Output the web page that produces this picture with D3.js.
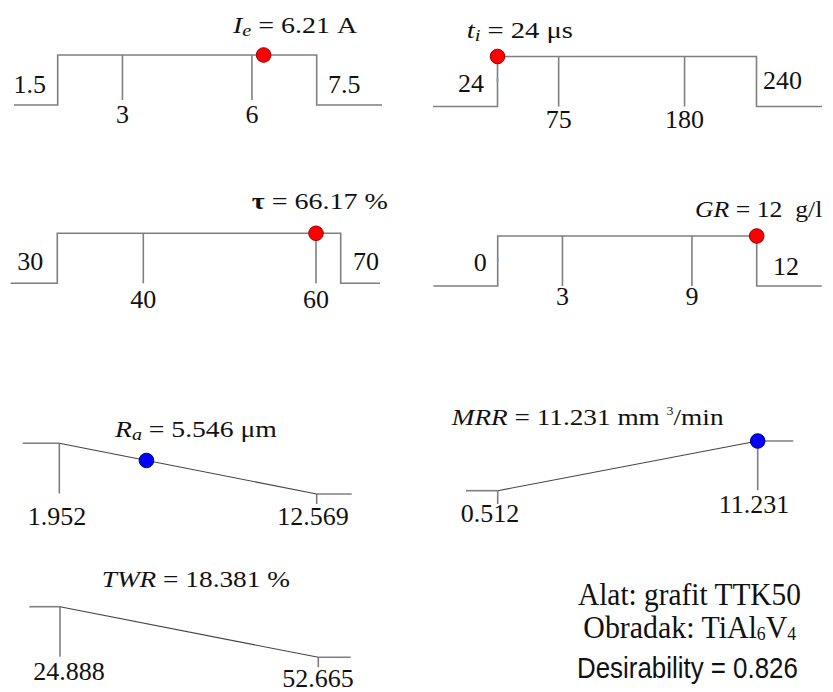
<!DOCTYPE html>
<html><head><meta charset="utf-8">
<script src="https://cdn.jsdelivr.net/npm/d3@7"></script>
<style>html,body{margin:0;padding:0;background:#fff;} svg{display:block}</style>
</head><body><svg id="c" width="833" height="692"></svg>
<script>
// ---------------- data ----------------
const factorSymbols = ["I", "t", "τ", "GR"];
const factorSubscripts = ["e", "i", "", ""];
const factorUnits = ["A", "μs", "%", " g/l"];
const factorLow = [1.5, 24, 30, 0];
const factorHigh = [7.5, 240, 70, 12];
const factorTicks = [[3, 6], [75, 180], [40, 60], [3, 9]];
const factorValues = [6.21, 24, 66.17, 12];
// where the dot sits on each drawn axis
const factorMarkerAt = [6.27, 24, 60, 12];

const responseSymbols = ["R", "MRR", "TWR"];
const responseSubscripts = ["a", "", ""];
const responseUnits = ["μm", "mm³/min", "%"];
const responseLow = [1.952, 0.512, 24.888];
const responseHigh = [12.569, 11.231, 52.665];
const responseGoals = ["minimize", "maximize", "minimize"];
const responseValues = [5.546, 11.231, 18.381];

const toolLine = "Alat: grafit TTK50";
const workpiece = ["Obradak: TiAl", "6", "V", "4"];
const desirability = 0.826;

// ---------------- layout ----------------
const factorLayout = [
  {yTop:55, yBot:105, stubL:14, stops:[57.7,316.7], stubR:382, tickBot:100, lowLab:[46,93], highLab:[328,93], tickLabY:123, title:[233,357,33]},
  {yTop:56.5, yBot:106.5, stubL:433, stops:[497.5,756.5], stubR:822, tickBot:106.5, lowLab:[484,91.7], highLab:[763,89], tickLabY:128, title:[466.7,573,38], blip:[78,82]},
  {yTop:233.3, yBot:283.3, stubL:10.7, stops:[57.3,143.3,316,340.7], stubR:380, tickBot:283.3, lowLab:[43.3,270], highLab:[353,270], tickLabY:308, title:[251.7,388,209.3]},
  {yTop:236, yBot:286, stubL:433.3, stops:[497.7,756.7], stubR:821.7, tickBot:286, lowLab:[486.7,270.7], highLab:[773,275], tickLabY:305, title:[695,823,216.7], blip:[257,262]}
];
const responseLayout = [
  {x0:59.3, x1:316.7, yHi:443.3, yLo:494, stubL:22.7, stubR:351.7, shortTick:10, lowLab:[57,525], highLab:[313,525], title:[115,278,437.3]},
  {x0:497.7, x1:757.7, yHi:441, yLo:490.7, stubL:466, stubR:793.3, shortTick:13.3, lowLab:[490,521.7], highLab:[754,513.3], title:[451.7,725,425]},
  {x0:60, x1:318.3, yHi:606.7, yLo:657.3, stubL:29.3, stubR:350.7, shortTick:10, lowLab:[69,680], highLab:[318,687], title:[101.7,290,586.7]}
];

const SERIF = "'Liberation Serif','Times New Roman',serif";
const SANS = "'Liberation Sans',Arial,sans-serif";
const GRAY = "#7f7f7f";
const svg = d3.select("#c");

function fitText(g, x0, x1, y) {
  const w = g.node().getBBox().width;
  g.attr("transform", `translate(${x0},${y}) scale(${(x1 - x0) / w},1)`);
}

function buildTitle(sym, sub, valueStr, unit, symStyle, lay) {
  const g = svg.append("g");
  const t = g.append("text").attr("font-family", SERIF).attr("font-size", 23.5).attr("fill", "#111")
    .style("white-space", "pre");
  const s = t.append("tspan").text(sym);
  if (symStyle === "bold") s.attr("font-weight", "bold"); else s.attr("font-style", "italic");
  if (sub) {
    t.append("tspan").attr("font-style", "italic").attr("font-size", 17).attr("dy", 3).text(sub);
    t.append("tspan").attr("dy", -3).text(" = " + valueStr + " ");
  } else {
    t.append("tspan").text(" = " + valueStr + " ");
  }
  if (unit.includes("³")) {
    const parts = unit.split("³");
    t.append("tspan").text(parts[0] + " ");
    t.append("tspan").attr("font-size", 12).attr("dy", -10).text("3");
    t.append("tspan").attr("dy", 10).text(parts[1]);
  } else {
    t.append("tspan").text(unit);
  }
  fitText(g, lay.title[0], lay.title[1], lay.title[2]);
}

// ---------------- factor panels (in-range steps) ----------------
factorLow.forEach((lo, i) => {
  const L = factorLayout[i];
  const hi = factorHigh[i];
  const domain = L.stops.length === 2 ? [lo, hi] : [lo, ...factorTicks[i], hi];
  const x = d3.scaleLinear().domain(domain).range(L.stops);
  const y = d3.scaleLinear().domain([0, 1]).range([L.yBot, L.yTop]);
  const stepPts = [
    [L.stubL, y(0)], [x(lo), y(0)], [x(lo), y(1)], [x(hi), y(1)], [x(hi), y(0)], [L.stubR, y(0)]
  ];
  const g = svg.append("g");
  g.append("path").attr("d", d3.line()(stepPts)).attr("fill", "none")
    .attr("stroke", GRAY).attr("stroke-width", 1.6);
  factorTicks[i].forEach(tv => {
    g.append("line").attr("x1", x(tv)).attr("x2", x(tv)).attr("y1", y(1)).attr("y2", L.tickBot)
      .attr("stroke", GRAY).attr("stroke-width", 1.6);
    g.append("text").attr("x", x(tv)).attr("y", L.tickLabY).attr("text-anchor", "middle")
      .attr("font-family", SERIF).attr("font-size", 26).attr("fill", "#111").text(String(tv));
  });
  if (L.blip) {
    g.append("line").attr("x1", x(lo)).attr("x2", x(lo)).attr("y1", L.blip[0]).attr("y2", L.blip[1])
      .attr("stroke", "#5b9bd5").attr("stroke-width", 1.6);
  }
  g.append("text").attr("x", L.lowLab[0]).attr("y", L.lowLab[1]).attr("text-anchor", "end")
    .attr("font-family", SERIF).attr("font-size", 26).attr("fill", "#111").text(String(lo));
  g.append("text").attr("x", L.highLab[0]).attr("y", L.highLab[1]).attr("text-anchor", "start")
    .attr("font-family", SERIF).attr("font-size", 26).attr("fill", "#111").text(String(hi));
  g.append("circle").attr("cx", x(factorMarkerAt[i])).attr("cy", y(1)).attr("r", 7.3)
    .attr("fill", "#ff0000").attr("stroke", "#a00000").attr("stroke-width", 1);
  buildTitle(factorSymbols[i], factorSubscripts[i], String(factorValues[i]), factorUnits[i],
    factorSymbols[i] === "τ" ? "bold" : "italic", L);
});

// ---------------- response panels (ramps) ----------------
responseLow.forEach((lo, i) => {
  const L = responseLayout[i];
  const hi = responseHigh[i];
  const x = d3.scaleLinear().domain([lo, hi]).range([L.x0, L.x1]);
  const y = d3.scaleLinear().domain([0, 1]).range([L.yLo, L.yHi]);
  const dFn = v => {
    const f = (Math.min(Math.max(v, lo), hi) - lo) / (hi - lo);
    return responseGoals[i] === "maximize" ? f : 1 - f;
  };
  const g = svg.append("g");
  g.append("line").attr("x1", L.stubL).attr("x2", x(lo)).attr("y1", y(dFn(lo))).attr("y2", y(dFn(lo)))
    .attr("stroke", GRAY).attr("stroke-width", 1.6);
  g.append("line").attr("x1", x(hi)).attr("x2", L.stubR).attr("y1", y(dFn(hi))).attr("y2", y(dFn(hi)))
    .attr("stroke", GRAY).attr("stroke-width", 1.6);
  [lo, hi].forEach(v => {
    const d = dFn(v);
    const y1 = y(d), y2 = d === 1 ? y(0) - 0.5 : y(0) + L.shortTick;
    g.append("line").attr("x1", x(v)).attr("x2", x(v)).attr("y1", y1).attr("y2", y2)
      .attr("stroke", GRAY).attr("stroke-width", 1.6);
  });
  g.append("path").attr("d", d3.line()([[x(lo), y(dFn(lo))], [x(hi), y(dFn(hi))]]))
    .attr("stroke", "#444").attr("stroke-width", 1.1).attr("fill", "none");
  g.append("text").attr("x", L.lowLab[0]).attr("y", L.lowLab[1]).attr("text-anchor", "middle")
    .attr("font-family", SERIF).attr("font-size", 26).attr("fill", "#111").text(String(lo));
  g.append("text").attr("x", L.highLab[0]).attr("y", L.highLab[1]).attr("text-anchor", "middle")
    .attr("font-family", SERIF).attr("font-size", 26).attr("fill", "#111").text(String(hi));
  const v = responseValues[i];
  if (v >= lo && v <= hi) {
    g.append("circle").attr("cx", x(v)).attr("cy", y(dFn(v))).attr("r", 7.3)
      .attr("fill", "#0000ff").attr("stroke", "#000080").attr("stroke-width", 1);
  }
  buildTitle(responseSymbols[i], responseSubscripts[i], String(v), responseUnits[i], "italic", L);
});

// ---------------- notes ----------------
{
  const g1 = svg.append("g");
  g1.append("text").attr("font-family", SERIF).attr("font-size", 32).attr("fill", "#111").text(toolLine);
  fitText(g1, 578, 801, 605);
  const g2 = svg.append("g");
  const t2 = g2.append("text").attr("font-family", SERIF).attr("font-size", 32).attr("fill", "#111");
  t2.append("tspan").text(workpiece[0]);
  t2.append("tspan").attr("font-size", 19).attr("dy", 2).text(workpiece[1]);
  t2.append("tspan").attr("dy", -2).text(workpiece[2]);
  t2.append("tspan").attr("font-size", 19).attr("dy", 2).text(workpiece[3]);
  fitText(g2, 583.3, 796.7, 638.3);
  const g3 = svg.append("g");
  g3.append("text").attr("font-family", SANS).attr("font-size", 30).attr("fill", "#111")
    .text("Desirability = " + String(desirability));
  fitText(g3, 577, 798, 678.3);
}
</script></body></html>
